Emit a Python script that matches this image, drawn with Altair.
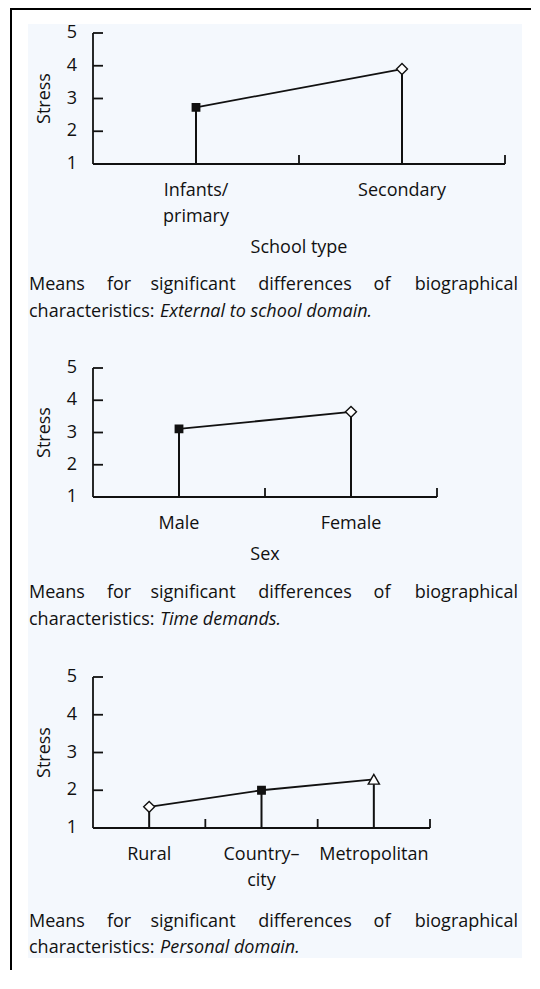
import altair as alt
import pandas as pd

# ---------------- data ----------------
school_types = ["Infants/\nprimary", "Secondary"]
school_means = [2.73, 3.90]

sexes = ["Male", "Female"]
sex_means = [3.11, 3.64]

locations = ["Rural", "Country\u2013\ncity", "Metropolitan"]
location_means = [1.56, 2.00, 2.29]

stress_levels = [1, 2, 3, 4, 5]
axis_notches = [2, 3, 4, 5]

caption_words = ["Means", "for", "significant", "differences", "of", "biographical"]
caption_lead = "characteristics:"
caption_topics = ["External to school domain.", "Time demands.", "Personal domain."]

# ---------------- styles ----------------
FONT = "Open Sans"
FS = 18
INK = "#111111"
BG = "#f4f8fd"
AXW = 1.8

school_markers = [("square", INK, 55), ("diamond", "white", 120)]
sex_markers = [("square", INK, 55), ("diamond", "white", 120)]
location_markers = [("diamond", "white", 120), ("square", INK, 55), ("triangle-up", "white", 125)]

# ---------------- layout (pixels, relative to each panel's plot origin) ----------------
BG_LEFT, BG_RIGHT = -65, 429
BORDER_LEFT = -83
WORD_X = [-64, 26, 100, 212, 289, 425]
WORD_ALIGN = ["left", "center", "center", "center", "center", "right"]
LEAD_X, TOPIC_X = -64, 67


def text_layer(text, x, y, align, italic=False):
    one = pd.DataFrame({"k": [0]})
    kw = dict(text=text, align=align, baseline="middle", font=FONT, fontSize=FS, color=INK)
    if italic:
        kw["fontStyle"] = "italic"
    return alt.Chart(one).mark_text(**kw).encode(x=alt.value(x), y=alt.value(y))


def panel(cats, means, markers, width, plot_h, slot_h, x_title, title_dy, topic,
          cap_y1, cap_y2, bg_top, bg_bottom, border_top, border_bottom, top_border):
    df = pd.DataFrame({
        "cat": cats,
        "mean": means,
        "shape": [m[0] for m in markers],
        "fill": [m[1] for m in markers],
        "size": [m[2] for m in markers],
        "order": list(range(len(cats))),
    })
    cat_df = pd.DataFrame({"cat": cats})
    xs = alt.Scale(type="band", domain=cats, paddingInner=0, paddingOuter=0)
    ys = alt.Scale(domain=[1, 5], range=[plot_h, 0], nice=False, zero=False)

    def ydat(v):
        return alt.YDatum(v, type="quantitative", scale=ys, axis=None)

    one = pd.DataFrame({"k": [0]})
    layers = [
        alt.Chart(one).mark_rect(fill=BG).encode(
            x=alt.value(BG_LEFT), x2=alt.value(BG_RIGHT),
            y=alt.value(bg_top), y2=alt.value(bg_bottom)),
        alt.Chart(one).mark_rect(fill="black").encode(
            x=alt.value(BORDER_LEFT), x2=alt.value(BORDER_LEFT + 2),
            y=alt.value(border_top), y2=alt.value(border_bottom)),
    ]
    if top_border:
        layers.append(alt.Chart(one).mark_rect(fill="black").encode(
            x=alt.value(BORDER_LEFT), x2=alt.value(438),
            y=alt.value(border_top), y2=alt.value(border_top + 2)))

    # axes drawn from the scales
    y_domain = alt.Chart(one).mark_rule(color=INK, strokeWidth=AXW).encode(
        x=alt.value(0), y=ydat(1), y2=alt.datum(5))
    x_domain = alt.Chart(one).mark_rule(color=INK, strokeWidth=AXW).encode(
        x=alt.value(0), x2=alt.value(width), y=ydat(1))
    y_notches = alt.Chart(pd.DataFrame({"lvl": axis_notches})).mark_rule(
        color=INK, strokeWidth=AXW).encode(
        y=alt.Y("lvl:Q", scale=ys, axis=None),
        x=alt.value(0), x2=alt.value(10))
    x_notches = alt.Chart(cat_df).mark_rule(
        color=INK, strokeWidth=AXW, y2Offset=-9).encode(
        x=alt.X("cat:N", scale=xs, axis=None, bandPosition=1),
        y=ydat(1), y2=alt.datum(1))
    y_labels = alt.Chart(pd.DataFrame({"lvl": stress_levels})).mark_text(
        align="right", baseline="middle", dx=-16, font=FONT, fontSize=FS, color=INK).encode(
        x=alt.value(0), y=alt.Y("lvl:Q", scale=ys, axis=None), text=alt.Text("lvl:Q"))
    x_labels = alt.Chart(cat_df).mark_text(
        align="center", baseline="top", dy=18, lineBreak="\n", lineHeight=26,
        font=FONT, fontSize=FS, color=INK).encode(
        x=alt.X("cat:N", scale=xs, axis=None), y=ydat(1), text=alt.Text("cat:N"))
    y_title = alt.Chart(one).mark_text(
        text="Stress", angle=270, align="center", baseline="middle",
        font=FONT, fontSize=FS, color=INK).encode(x=alt.value(-48), y=ydat(3))
    layers += [y_domain, x_domain, y_notches, x_notches, y_labels, x_labels, y_title]
    if x_title:
        layers.append(alt.Chart(one).mark_text(
            text=x_title, align="center", baseline="middle", dy=title_dy,
            font=FONT, fontSize=FS, color=INK).encode(x=alt.value(width / 2), y=ydat(1)))

    # data marks
    stems = alt.Chart(df).mark_rule(color=INK, strokeWidth=2).encode(
        x=alt.X("cat:N", scale=xs, axis=None),
        y=alt.Y("mean:Q", scale=ys, axis=None),
        y2=alt.datum(1),
    )
    line = alt.Chart(df).mark_line(color=INK, strokeWidth=1.8).encode(
        x=alt.X("cat:N", scale=xs, axis=None),
        y=alt.Y("mean:Q", scale=ys, axis=None),
        order=alt.Order("order:Q"),
    )
    points = alt.Chart(df).mark_point(stroke=INK, strokeWidth=1.4, opacity=1, fillOpacity=1).encode(
        x=alt.X("cat:N", scale=xs, axis=None),
        y=alt.Y("mean:Q", scale=ys, axis=None),
        shape=alt.Shape("shape:N", scale=None),
        fill=alt.Fill("fill:N", scale=None),
        size=alt.Size("size:Q", scale=None),
    )
    layers += [stems, line, points]

    for w, x, a in zip(caption_words, WORD_X, WORD_ALIGN):
        layers.append(text_layer(w, x, cap_y1, a))
    layers.append(text_layer(caption_lead, LEAD_X, cap_y2, "left"))
    layers.append(text_layer(topic, TOPIC_X, cap_y2, "left", italic=True))

    return alt.layer(*layers).properties(width=width, height=slot_h)


p1 = panel(school_types, school_means, school_markers, width=412, plot_h=131, slot_h=335,
           x_title="School type", title_dy=84, topic=caption_topics[0],
           cap_y1=252, cap_y2=279, bg_top=-9, bg_bottom=335,
           border_top=-25, border_bottom=335, top_border=True)
p2 = panel(sexes, sex_means, sex_markers, width=344, plot_h=129, slot_h=309,
           x_title="Sex", title_dy=58, topic=caption_topics[1],
           cap_y1=225, cap_y2=252, bg_top=0, bg_bottom=309,
           border_top=0, border_bottom=309, top_border=False)
p3 = panel(locations, location_means, location_markers, width=337, plot_h=151, slot_h=151,
           x_title="", title_dy=0, topic=caption_topics[2],
           cap_y1=245, cap_y2=271, bg_top=0, bg_bottom=281,
           border_top=0, border_bottom=293, top_border=False)

chart = alt.vconcat(p1, p2, p3, spacing=0, bounds="flush").properties(
    padding={"left": 2, "top": 0, "right": 0, "bottom": 0}
).configure_view(strokeWidth=0)

chart.save("out.html", embed_options={"renderer": "svg", "actions": False})
